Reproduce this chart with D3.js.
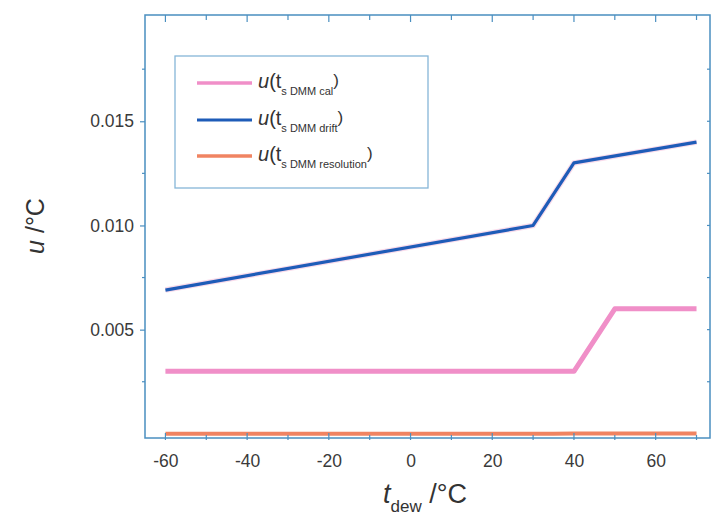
<!DOCTYPE html>
<html><head><meta charset="utf-8">
<script src="https://cdn.jsdelivr.net/npm/d3@7"></script>
<style>body{margin:0;background:#fff}svg{display:block}text{font-family:"Liberation Sans",Arial,sans-serif}</style>
</head><body><svg id="c" width="712" height="525"></svg>
<script>
const tCal = [-60, 40, 50, 70];
const uCal = [0.0030, 0.0030, 0.0060, 0.0060];
const tDrift = [-60, 30, 40, 70];
const uDrift = [0.0069, 0.0100, 0.0130, 0.0140];
const tRes = [-60, 35, 40, 70];
const uRes = [0.00000, 0.00000, 0.00002, 0.00002];
const xTicks = [-60, -40, -20, 0, 20, 40, 60];
const yTicks = [0.005, 0.010, 0.015];
const seriesNames = ["DMM cal", "DMM drift", "DMM resolution"];
const colors = ["#f08fc8", "#1e5cb8", "#f08462"];

const svg = d3.select("#c");
const L = 145, R = 710, T = 15, B = 438;
const x = d3.scaleLinear().domain([-65, 73.3]).range([L, R]);
const y = d3.scaleLinear().domain([-0.0002, 0.0201]).range([B, T]);
const axisCol = "#4a8fc0";

const series = [
  {t: tCal, u: uCal, c: colors[0], w: 5},
  {t: tDrift, u: uDrift, c: colors[1], w: 3.2},
  {t: tRes, u: uRes, c: colors[2], w: 4}
];
const line = d3.line().x(d => x(d[0])).y(d => y(d[1]));
svg.append("path").datum(d3.zip(tDrift, uDrift)).attr("d", line)
  .attr("fill", "none").attr("stroke", "#f3b5d6").attr("stroke-width", 5.5).attr("opacity", 0.5);
series.forEach(s => {
  svg.append("path").datum(d3.zip(s.t, s.u)).attr("d", line)
    .attr("fill", "none").attr("stroke", s.c).attr("stroke-width", s.w)
    .attr("stroke-linejoin", "round");
});

const fmtX = v => String(v);
const gB = svg.append("g").attr("transform", `translate(0,${B})`)
  .call(d3.axisBottom(x).tickValues(xTicks).tickSize(0).tickPadding(17).tickFormat(fmtX));
const gL = svg.append("g").attr("transform", `translate(${L},0)`)
  .call(d3.axisLeft(y).tickValues(yTicks).tickSize(5).tickPadding(6).tickFormat(d3.format(".3f")));
[gB, gL].forEach(g => {
  g.select(".domain").remove();
  g.selectAll("line").attr("stroke", axisCol).attr("stroke-width", 1.2);
  g.selectAll("text").attr("fill", "#3a3a3a").style("font-size", "17.5px");
});
svg.append("rect").attr("x", L).attr("y", T).attr("width", R - L).attr("height", B - T)
  .attr("fill", "none").attr("stroke", axisCol).attr("stroke-width", 1.5);
const minorX = d3.range(-60, 71, 10);
const minorY = [0.0025, 0.0075, 0.0125, 0.0175];
minorX.forEach(v => {
  const major = xTicks.includes(v);
  const len = major ? 5 : 3;
  svg.append("line").attr("x1", x(v)).attr("x2", x(v)).attr("y1", B - len).attr("y2", B + 2)
    .attr("stroke", axisCol).attr("stroke-width", 1.2);
  svg.append("line").attr("x1", x(v)).attr("x2", x(v)).attr("y1", T).attr("y2", T + len + 2)
    .attr("stroke", axisCol).attr("stroke-width", 1.2);
});
minorY.forEach(v => {
  svg.append("line").attr("x1", L - 3).attr("x2", L).attr("y1", y(v)).attr("y2", y(v))
    .attr("stroke", axisCol).attr("stroke-width", 1.2);
});
yTicks.concat(minorY).forEach(v => {
  svg.append("line").attr("x1", R - 3).attr("x2", R).attr("y1", y(v)).attr("y2", y(v))
    .attr("stroke", axisCol).attr("stroke-width", 1.2);
});

const yt = svg.append("text").attr("transform", `translate(44,226) rotate(-90)`)
  .attr("text-anchor", "middle").attr("fill", "#333").style("font-size", "25px");
yt.append("tspan").text("u").style("font-style", "italic");
yt.append("tspan").text(" /°C");
const xt = svg.append("text").attr("x", 383).attr("y", 503).attr("fill", "#333").style("font-size", "27px");
xt.append("tspan").text("t").style("font-style", "italic");
xt.append("tspan").text("dew").attr("dy", 9).style("font-size", "17px");
xt.append("tspan").text(" /°C").attr("dy", -9);

const lg = svg.append("g");
lg.append("rect").attr("x", 175).attr("y", 56).attr("width", 253).attr("height", 132)
  .attr("fill", "#fff").attr("stroke", "#86b6d8").attr("stroke-width", 1.3);
const ly = [83, 120, 156];
seriesNames.forEach((n, i) => {
  lg.append("line").attr("x1", 197).attr("x2", 252).attr("y1", ly[i]).attr("y2", ly[i])
    .attr("stroke", colors[i]).attr("stroke-width", i === 1 ? 3 : 3.5);
  const tx = lg.append("text").attr("x", 258).attr("y", ly[i] + 5).attr("fill", "#333").style("font-size", "20px");
  tx.append("tspan").text("u").style("font-style", "italic");
  tx.append("tspan").text("(t");
  tx.append("tspan").text("s DMM " + n.slice(4)).attr("dy", 7).style("font-size", "11px");
  tx.append("tspan").text(")").attr("dy", -9).style("font-size", "17px");
});
</script></body></html>
